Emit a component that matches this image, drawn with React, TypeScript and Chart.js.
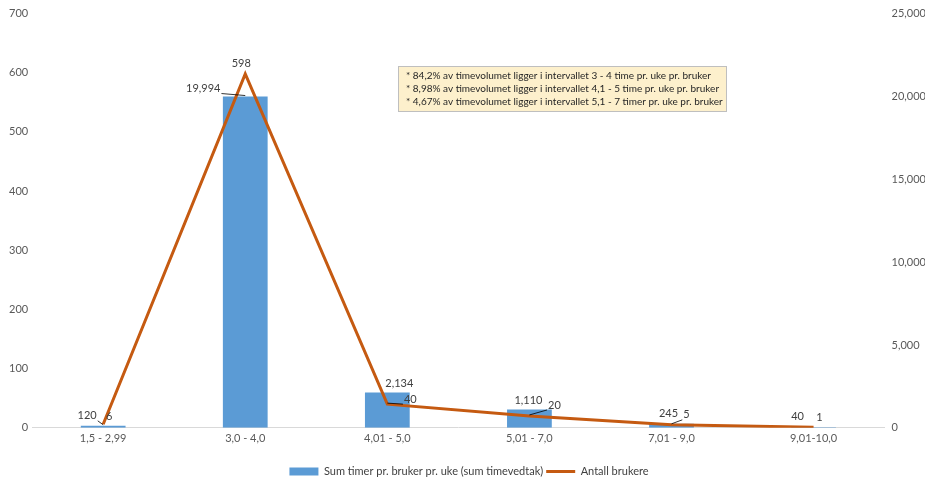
import React, { useEffect, useRef } from "react";
import { Chart, registerables } from "chart.js";

Chart.register(...registerables);

const categories = ["1,5 - 2,99", "3,0 - 4,0", "4,01 - 5,0", "5,01 - 7,0", "7,01 - 9,0", "9,01-10,0"];
const sumTimer = [120, 19994, 2134, 1110, 245, 40];
const antallBrukere = [6, 598, 40, 20, 5, 1];
const noteLines = [
  "* 84,2% av timevolumet ligger i intervallet 3 - 4 time pr. uke pr. bruker",
  "* 8,98% av timevolumet ligger i intervallet 4,1 - 5 time pr. uke pr. bruker",
  "* 4,67% av timevolumet ligger i intervallet 5,1 - 7 timer pr. uke pr. bruker",
];

// label offsets (text center relative to element point), and whether to draw a leader line
const barLabelOffsets: [number, number, boolean][] = [
  [-16, -10, true],
  [-42, -8, true],
  [12, -9, false],
  [-1, -9, false],
  [-3, -10, false],
  [-16, -11, false],
];
const lineLabelOffsets: [number, number, boolean][] = [
  [6, -8, false],
  [-4, -11, false],
  [23, -5, true],
  [25, -11, true],
  [15, -10, true],
  [6, -10, false],
];

const FONT = "Lato, 'Open Sans', sans-serif";
const fmt = (v: number) => v.toLocaleString("en-US");

const labelPlugin = {
  id: "customLabels",
  afterDatasetsDraw(chart: any) {
    const ctx = chart.ctx;
    ctx.save();
    ctx.font = `11px ${FONT}`;
    ctx.textAlign = "center";
    ctx.textBaseline = "middle";
    const barMeta = chart.getDatasetMeta(0);
    const lineMeta = chart.getDatasetMeta(1);
    const draw = (meta: any, values: number[], offs: [number, number, boolean][]) => {
      meta.data.forEach((el: any, i: number) => {
        const [dx, dy, leader] = offs[i];
        const txt = fmt(values[i]);
        const tx = el.x + dx;
        const ty = el.y + dy;
        if (leader) {
          const w = ctx.measureText(txt).width;
          ctx.strokeStyle = "#000";
          ctx.lineWidth = 0.8;
          ctx.beginPath();
          const ex = dx < 0 ? tx + w / 2 + 1 : tx - w / 2 - 1;
          ctx.moveTo(el.x, el.y - 1);
          ctx.lineTo(ex, ty + 5);
          ctx.stroke();
        }
        ctx.fillStyle = "#404040";
        ctx.fillText(txt, tx, ty);
      });
    };
    draw(barMeta, sumTimer, barLabelOffsets);
    draw(lineMeta, antallBrukere, lineLabelOffsets);

    // note box
    const bx = 398, by = 66, bw = 328, bh = 45;
    ctx.fillStyle = "#fdf0cc";
    ctx.fillRect(bx, by, bw, bh);
    ctx.strokeStyle = "#bfbfbf";
    ctx.lineWidth = 1;
    ctx.strokeRect(bx + 0.5, by + 0.5, bw, bh);
    ctx.fillStyle = "#262626";
    ctx.textAlign = "left";
    ctx.font = `10px ${FONT}`;
    noteLines.forEach((t, i) => ctx.fillText(t, bx + 8, by + 10 + i * 13));
    ctx.restore();
  },
};

export default function App() {
  const ref = useRef<HTMLCanvasElement>(null);
  useEffect(() => {
    document.body.style.margin = "0";
    const chart = new Chart(ref.current!, {
      type: "bar",
      data: {
        labels: categories,
        datasets: [
          {
            type: "bar",
            label: "Sum timer pr. bruker pr. uke (sum timevedtak)",
            data: sumTimer,
            backgroundColor: "#5b9bd5",
            yAxisID: "y1",
            order: 1,
            barPercentage: 0.63,
            categoryPercentage: 0.5,
          },
          {
            type: "line",
            label: "Antall brukere",
            data: antallBrukere,
            borderColor: "#c55a11",
            backgroundColor: "#c55a11",
            borderWidth: 3,
            pointRadius: 0,
            tension: 0,
            yAxisID: "y",
            order: 0,
          },
        ],
      },
      options: {
        animation: false,
        responsive: false,
        maintainAspectRatio: false,
        layout: { padding: { top: 2, left: 5, right: -8, bottom: -8 } },
        font: { family: FONT },
        plugins: {
          tooltip: { enabled: false },
          legend: {
            position: "bottom",
            labels: {
              font: { family: FONT, size: 11 },
              color: "#404040",
              usePointStyle: true,
              pointStyleWidth: 29,
              boxHeight: 8,
              padding: 3,
              generateLabels: (chart: any) =>
                chart.data.datasets.map((ds: any, i: number) => {
                  const isLine = ds.type === "line";
                  return {
                    text: ds.label,
                    fillStyle: isLine ? "#c55a11" : "#5b9bd5",
                    strokeStyle: isLine ? "#c55a11" : "#5b9bd5",
                    lineWidth: isLine ? 3 : 0,
                    pointStyle: isLine ? "line" : "rect",
                    datasetIndex: i,
                    fontColor: "#404040",
                    hidden: false,
                  };
                }),
            },
          },
        },
        scales: {
          x: {
            grid: { display: false, drawTicks: false },
            border: { display: true, color: "#d9d9d9", width: 1 },
            ticks: { font: { family: FONT, size: 11 }, color: "#595959", padding: 4 },
            afterFit: (scale: any) => {
              scale.height += 14;
            },
          },
          y: {
            position: "left",
            min: 0,
            max: 700,
            ticks: { stepSize: 100, font: { family: FONT, size: 11 }, color: "#595959", padding: 4 },
            grid: { display: false, drawTicks: false },
            border: { display: false },
          },
          y1: {
            position: "right",
            min: 0,
            max: 25000,
            ticks: {
              stepSize: 5000,
              font: { family: FONT, size: 11 },
              color: "#595959",
              padding: 7,
              callback: (v: any) => fmt(Number(v)),
            },
            grid: { display: false, drawTicks: false },
            border: { display: false },
          },
        },
      },
      plugins: [labelPlugin],
    } as any);
    return () => chart.destroy();
  }, []);
  return <canvas ref={ref} width={925} height={479} style={{ display: "block" }} />;
}
